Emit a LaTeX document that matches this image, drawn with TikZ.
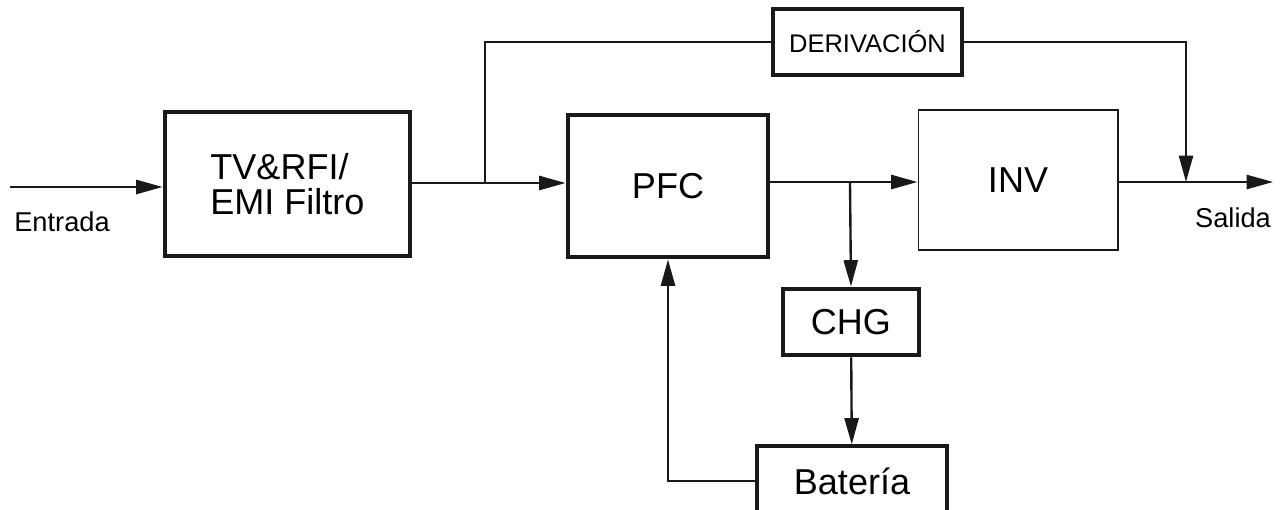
\documentclass[tikz,border=0pt]{standalone}
\usepackage{fontspec}
\setmainfont{Liberation Sans}
\usepackage{tikz}
\usetikzlibrary{arrows.meta, positioning, calc}

\begin{document}
\begin{tikzpicture}[
    x=0.02cm, y=-0.02cm,
    box/.style={rectangle, draw=black!90, line width=2.8pt, inner sep=0pt,
                align=center, font=\fontsize{20.5}{20}\selectfont},
    thinbox/.style={box, line width=0.6pt},
    midbox/.style={box, line width=1.8pt},
    lbl/.style={inner sep=0pt, font=\fontsize{15.5}{16}\selectfont},
    line/.style={line width=1.35pt, draw=black!90},
    arr/.style={line, -{Triangle[length=15pt, width=8pt]}},
  ]
  \useasboundingbox (0,0) rectangle (1282,510);

  \node[box, minimum width=4.9cm, minimum height=2.88cm, align=left] (filt) at (287.5,184)
    {TV\&RFI/\\EMI Filtro};
  \node[box, minimum width=4.0cm, minimum height=2.84cm] (pfc) at (668,186) {PFC};
  \node[thinbox, minimum width=4.0cm, minimum height=2.8cm] (inv) at (1018,180) {INV};
  \node[box, minimum width=3.78cm, minimum height=1.32cm,
        font=\fontsize{14.5}{15}\selectfont] (der) at (867.5,42) {DERIVACIÓN};
  \node[box, minimum width=2.72cm, minimum height=1.32cm] (chg) at (851,322) {CHG};
  \node[midbox, minimum width=3.8cm, minimum height=1.4cm] (bat) at (852,481) {Batería};

  \node[lbl] (ent) at (62,222) {Entrada};
  \node[lbl] (sal) at (1233,218) {Salida};

  \coordinate (in) at (10,187);
  \coordinate (split) at (485,183);
  \coordinate (tap) at (850,182);
  \coordinate (join) at (1186,182);
  \coordinate (out) at (1273,182);

  \draw[arr] (in) -- (in -| filt.west);
  \draw[arr] (filt.east |- split) -- (pfc.west |- split);
  \draw[arr] (pfc.east |- tap) -- (inv.west |- tap);
  \draw[arr] (tap) -- (chg.north);
  \draw[arr] (chg) -- (bat);
  \draw[arr] (inv.east |- out) -- (out);

  % derivación: rodea el PFC y el INV
  \draw[line] (split) |- (der.west);
  \draw[arr] (der.east) -| (join);

  \draw[arr] (bat.west) -| (pfc.south);
\end{tikzpicture}
\end{document}
